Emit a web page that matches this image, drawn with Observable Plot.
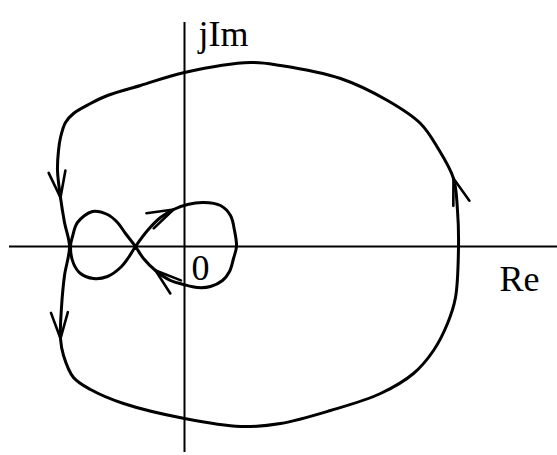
<!DOCTYPE html>
<html>
<head>
<meta charset="utf-8">
<script src="https://cdn.jsdelivr.net/npm/d3@7"></script>
<script src="https://cdn.jsdelivr.net/npm/@observablehq/plot@0.6"></script>
<style>
  body { margin: 0; background: #fff; }
</style>
</head>
<body>
<div id="chart"></div>
<script>
// Outer Nyquist contour, points listed in the direction of travel
const outerRe = [6.6, 0, -4.4, -7.7, -9.4, -11.1, -11.9, -12.4, -12.6, -12.7, -12.4, -12.0, -11.5, -12.0, -12.3, -12.4,
  -12.1, -11.1, -9.4, -6.1, 0, 5.6, 9.6, 14.6, 19.6, 22.9, 24.9, 26.3, 27.1, 27.4, 27.3, 26.9, 25.3, 23.6,
  20.3, 15.6, 9.6];
const outerIm = [18.4, 17.4, 16.1, 15.1, 14.3, 13.3, 12.4, 10.9, 9.6, 7.6, 4.9, 2.4, 0, -2.9, -6.1, -9.2,
  -10.9, -13.1, -14.3, -15.7, -17.2, -18.0, -17.7, -16.4, -14.7, -12.7, -10.4, -7.7, -5.1, 0, 3.6, 6.8, 9.9, 12.3,
  14.6, 16.8, 18.1];
const outerArrowAt = [10, 15, 31];

// Inner figure-eight, passing twice through the crossing at Re = -4.9
const innerRe = [-4.9, -3.7, -2.4, -1.1, 0.3, 1.9, 3.6, 4.6, 5.0, 5.2, 4.9, 4.5, 3.8, 2.6, 1.3, -0.1, -1.4, -2.9,
  -4.1, -4.9, -5.9, -6.7, -7.7, -9.2, -10.7, -11.2, -11.4, -11.1, -10.4, -9.1, -7.7, -6.4, -5.6];
const innerIm = [0, 1.6, 2.9, 3.7, 4.2, 4.4, 4.1, 3.1, 1.6, 0, -1.2, -2.5, -3.4, -4.0, -4.1, -3.8, -3.4, -2.4,
  -1.2, 0, 1.3, 2.4, 3.2, 3.5, 2.4, 1.0, 0, -1.7, -2.7, -3.2, -3.0, -2.1, -1.1];
const innerArrowAt = [3, 17];

// Axis extents
const reAxis = [-17.5, 37.3];
const imAxis = [-20.6, 22.4];

// Labels
const labelText = ["jIm", "Re", "0"];
const labelRe = [1.4, 31.5, 0.7];
const labelIm = [20.1, -4.4, -3.3];

const toRows = (re, im) => re.map((r, i) => ({re: r, im: im[i]}));
const outer = toRows(outerRe, outerIm);
const inner = toRows(innerRe, innerIm);
const labels = labelText.map((t, i) => ({text: t, re: labelRe[i], im: labelIm[i]}));

// Direction arrows: heading taken from the neighbouring points of the contour
function arrowsOf(re, im, at) {
  const n = re.length;
  return at.map(i => {
    const a = (i - 1 + n) % n, b = (i + 1) % n;
    const dx = re[b] - re[a], dy = im[b] - im[a];
    return {re: re[i], im: im[i], angle: Math.atan2(dx, dy) * 180 / Math.PI};
  });
}
const arrows = [...arrowsOf(outerRe, outerIm, outerArrowAt), ...arrowsOf(innerRe, innerIm, innerArrowAt)];

// Open arrowhead: two barbs meeting at the tip
const barbs = {
  draw(context, l) {
    const w = l * Math.tan(18 * Math.PI / 180);
    context.moveTo(-w, 0);
    context.lineTo(0, -l);
    context.lineTo(w, 0);
  }
};

const chart = Plot.plot({
  width: 557,
  height: 455,
  margin: 0,
  x: {domain: [-18.4, 37.3], axis: null},
  y: {domain: [-20.9, 24.6], axis: null},
  style: {background: "#fff"},
  marks: [
    Plot.ruleY([0], {x1: reAxis[0], x2: reAxis[1], stroke: "#000", strokeWidth: 2}),
    Plot.ruleX([0], {y1: imAxis[0], y2: imAxis[1], stroke: "#000", strokeWidth: 2}),
    Plot.line(outer, {x: "re", y: "im", curve: "catmull-rom-closed", stroke: "#000", strokeWidth: 3}),
    Plot.line(inner, {x: "re", y: "im", curve: "catmull-rom-closed", stroke: "#000", strokeWidth: 3}),
    Plot.vector(arrows, {
      x: "re", y: "im", rotate: "angle", length: 26, anchor: "end", shape: barbs,
      stroke: "#000", strokeWidth: 2.6, fill: "none", strokeLinejoin: "miter"
    }),
    Plot.text(labels, {
      x: "re", y: "im", text: "text", textAnchor: "start", lineAnchor: "bottom",
      fontFamily: "Liberation Serif", fontSize: 36, fill: "#000"
    })
  ]
});
document.getElementById("chart").append(chart);
</script>
</body>
</html>
